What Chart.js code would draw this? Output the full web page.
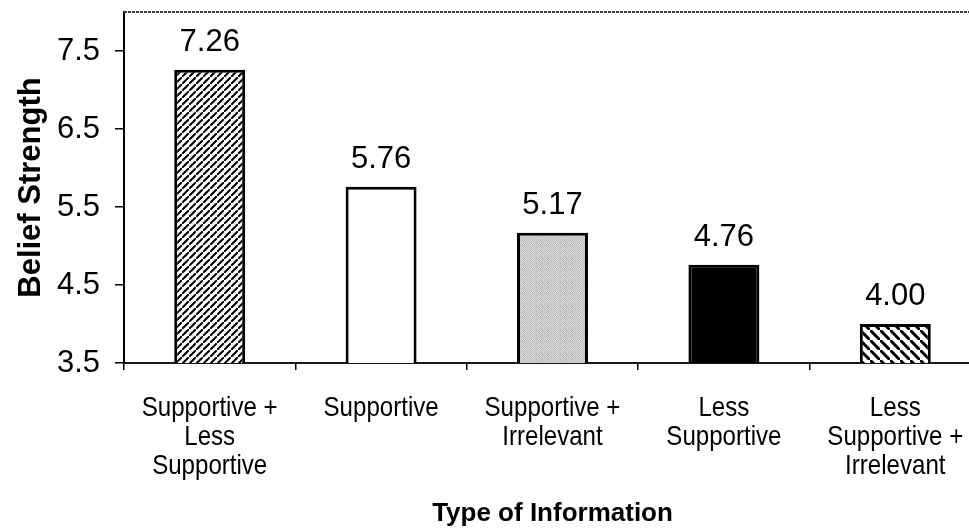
<!DOCTYPE html>
<html>
<head>
<meta charset="utf-8">
<title>Belief Strength by Type of Information</title>
<script src="https://cdn.jsdelivr.net/npm/chart.js@4/dist/chart.umd.min.js"></script>
<style>
  html, body { margin: 0; padding: 0; background: #fff; overflow: hidden; }
  #wrap { position: relative; width: 981px; height: 529px; }
</style>
</head>
<body>
<div id="wrap"><canvas id="chart"></canvas></div>
<script>
// Categories (multi-line labels) and mean belief strength for each
const categories = [
  ['Supportive +', 'Less', 'Supportive'],
  ['Supportive'],
  ['Supportive +', 'Irrelevant'],
  ['Less', 'Supportive'],
  ['Less', 'Supportive +', 'Irrelevant']
];
const beliefStrength = [7.26, 5.76, 5.17, 4.76, 4.00];
const yTicks = [3.5, 4.5, 5.5, 6.5, 7.5];
const yMin = 3.5;
const yMax = 8.0;

// ---- fill patterns for the bars ----
function hatch(size, lineW, forward) {
  const c = document.createElement('canvas');
  c.width = size; c.height = size;
  const g = c.getContext('2d');
  g.fillStyle = '#fff';
  g.fillRect(0, 0, size, size);
  g.strokeStyle = '#000';
  g.lineWidth = lineW;
  g.beginPath();
  if (forward) {
    g.moveTo(-size, size * 2); g.lineTo(size * 2, -size);
    g.moveTo(-size * 2, size); g.lineTo(size, -size * 2);
    g.moveTo(0, size * 3); g.lineTo(size * 3, 0);
  } else {
    g.moveTo(-size, -size); g.lineTo(size * 2, size * 2);
    g.moveTo(-size * 2, 0); g.lineTo(size, size * 3);
    g.moveTo(0, -size * 2); g.lineTo(size * 3, size);
  }
  g.stroke();
  return g.createPattern(c, 'repeat');
}

function stipple() {
  // small fixed dither of light greys
  const shades = [
    [0xb4, 0xd8, 0xc0, 0xe0, 0xb8, 0xd4],
    [0xdc, 0xbc, 0xd0, 0xb0, 0xdc, 0xc4],
    [0xc4, 0xd8, 0xb8, 0xd8, 0xc0, 0xe0],
    [0xe0, 0xb4, 0xdc, 0xc0, 0xd4, 0xb4],
    [0xbc, 0xd4, 0xc4, 0xe0, 0xb4, 0xd8],
    [0xd8, 0xc0, 0xb0, 0xcc, 0xdc, 0xbc]
  ];
  const n = shades.length;
  const c = document.createElement('canvas');
  c.width = n; c.height = n;
  const g = c.getContext('2d');
  for (let y = 0; y < n; y++) {
    for (let x = 0; x < n; x++) {
      const v = shades[y][x];
      g.fillStyle = 'rgb(' + v + ',' + v + ',' + v + ')';
      g.fillRect(x, y, 1, 1);
    }
  }
  return g.createPattern(c, 'repeat');
}

const barFills = [
  hatch(7, 2, true),
  '#ffffff',
  stipple(),
  '#000000',
  hatch(10, 3, false)
];

// value labels above each bar, drawn from the data values
const valueLabels = {
  id: 'valueLabels',
  afterDatasetsDraw(chart) {
    const ctx = chart.ctx;
    const meta = chart.getDatasetMeta(0);
    ctx.save();
    ctx.font = '31px "Liberation Sans", Arial, sans-serif';
    ctx.fillStyle = '#000';
    ctx.textAlign = 'center';
    ctx.textBaseline = 'alphabetic';
    meta.data.forEach((bar, i) => {
      ctx.fillText(beliefStrength[i].toFixed(2), bar.x, bar.y - 19);
    });
    ctx.restore();
  }
};

// condensed multi-line category labels under each tick, plus the top frame line
const narrowLabels = {
  id: 'narrowLabels',
  afterDraw(chart) {
    const { ctx, chartArea } = chart;
    const xs = chart.scales.x;
    ctx.save();
    ctx.strokeStyle = '#3a3a3a';
    ctx.lineWidth = 2;
    ctx.setLineDash([3, 1]);
    ctx.beginPath();
    ctx.moveTo(chartArea.left, chartArea.top);
    ctx.lineTo(chartArea.right, chartArea.top);
    ctx.stroke();
    ctx.setLineDash([]);

    const squeeze = 0.86;
    const lineGap = 29;
    const firstBaseline = chartArea.bottom + 53;
    ctx.font = '28px "Liberation Sans", Arial, sans-serif';
    ctx.fillStyle = '#000';
    ctx.textAlign = 'center';
    ctx.textBaseline = 'alphabetic';
    categories.forEach((lines, i) => {
      const cx = xs.getPixelForTick(i);
      lines.forEach((line, j) => {
        ctx.save();
        ctx.translate(cx, firstBaseline + j * lineGap);
        ctx.scale(squeeze, 1);
        ctx.fillText(line, 0, 0);
        ctx.restore();
      });
    });
    ctx.restore();
  }
};

new Chart(document.getElementById('chart'), {
  type: 'bar',
  data: {
    labels: categories,
    datasets: [{
      data: beliefStrength,
      backgroundColor: barFills,
      borderColor: '#000',
      borderWidth: 3,
      borderSkipped: false,
      barPercentage: 0.414,
      categoryPercentage: 1.0
    }]
  },
  options: {
    responsive: true,
    maintainAspectRatio: false,
    animation: false,
    events: [],
    layout: { padding: { top: 12, right: 0, left: 0, bottom: 0 } },
    plugins: {
      legend: { display: false },
      tooltip: { enabled: false },
      title: { display: false }
    },
    scales: {
      x: {
        offset: true,
        afterFit(scale) {
          scale.height = 166;
          scale.paddingLeft = 0;
          scale.paddingRight = 0;
        },
        border: { display: true, color: '#1a1a1a', width: 2 },
        grid: {
          offset: true,
          drawOnChartArea: false,
          drawTicks: true,
          tickLength: 7,
          color: '#000',
          lineWidth: 1.5
        },
        ticks: { display: false },
        title: {
          display: true,
          text: 'Type of Information',
          color: '#000',
          padding: { top: 0, bottom: 2 },
          font: { family: '"Liberation Sans", Arial, sans-serif', size: 26, weight: 'bold', lineHeight: 1.0 }
        }
      },
      y: {
        min: yMin,
        max: yMax,
        afterFit(scale) {
          scale.width = 124;
          scale.paddingTop = 0;
          scale.paddingBottom = 0;
        },
        afterBuildTicks(scale) {
          scale.ticks = yTicks.map(v => ({ value: v }));
        },
        border: { display: true, color: '#000', width: 2 },
        grid: {
          drawOnChartArea: false,
          drawTicks: true,
          tickLength: 9,
          color: '#000',
          lineWidth: 1.5
        },
        ticks: {
          color: '#000',
          padding: 15,
          font: { family: '"Liberation Sans", Arial, sans-serif', size: 31 },
          callback: v => Number(v).toFixed(1)
        },
        title: {
          display: true,
          text: 'Belief Strength',
          color: '#000',
          padding: { top: 16, bottom: 0 },
          font: { family: '"Liberation Sans", Arial, sans-serif', size: 31, weight: 'bold', lineHeight: 1.0 }
        }
      }
    }
  },
  plugins: [valueLabels, narrowLabels]
});
</script>
</body>
</html>
